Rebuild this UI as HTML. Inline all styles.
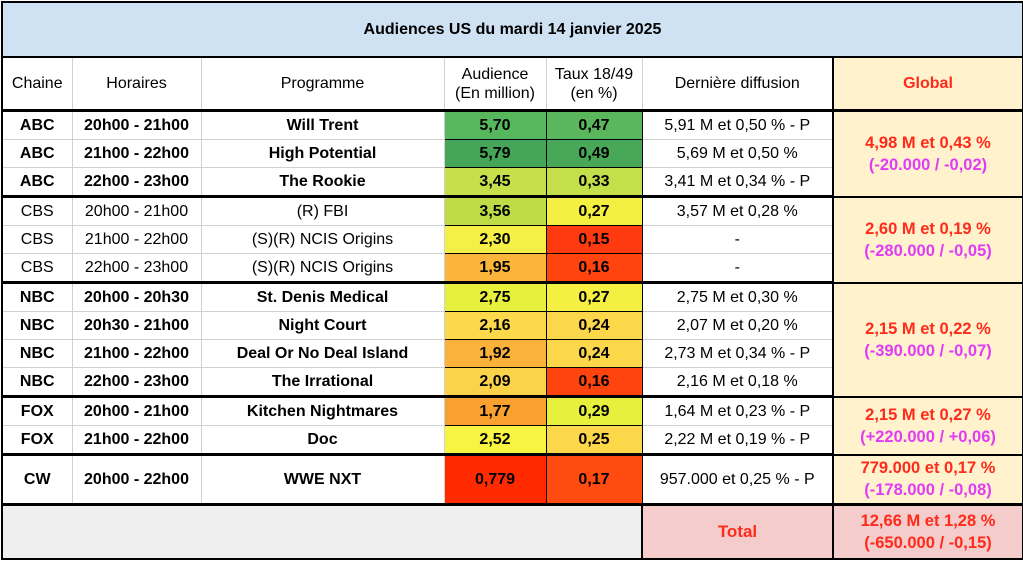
<!DOCTYPE html><html><head><style>
body{margin:0;background:#fff;width:1023px;height:563px;overflow:hidden;font-family:"Liberation Sans",Arial,sans-serif}
table{position:absolute;left:1px;top:1px;border-collapse:collapse;table-layout:fixed;width:1021px}
td{border:1px solid #d0d0d0;text-align:center;font-size:16px;padding:0;color:#000;overflow:hidden;white-space:nowrap}
.b{font-weight:bold}
.t{background:#cfe2f3;font-weight:bold;font-size:16px;height:53px;border:2px solid #000}
.h td{height:51px;font-size:16px;line-height:19px}
tr.r td{height:27px}
.c{border:1px solid #000;font-weight:bold}
.g{background:#fff2cc;color:#ff2a1a;font-weight:bold;border:2px solid #000;line-height:22px;font-size:16.5px}
.g span{color:#e03cf5}
.tk td{border-bottom:3px solid #000}
.L{border-left:2px solid #000}.R{border-right:2px solid #000}
</style></head><body>
<table>
<colgroup><col style="width:70px"><col style="width:129px"><col style="width:243px"><col style="width:102px"><col style="width:96px"><col style="width:191px"><col style="width:190px"></colgroup>
<tr><td colspan="7" class="t">Audiences US du mardi 14 janvier 2025</td></tr>
<tr class="h tk"><td class="L">Chaine</td><td>Horaires</td><td>Programme</td><td>Audience<br>(En million)</td><td>Taux 18/49<br>(en %)</td><td>Dernière diffusion</td><td class="g" style="color:#ff2a1a;border-bottom:3px solid #000">Global</td></tr>
<tr class="r"><td class="b L">ABC</td><td class="b">20h00 - 21h00</td><td class="b">Will Trent</td><td class="c" style="background:#57b75d">5,70</td><td class="c" style="background:#5ab75c">0,47</td><td>5,91 M et 0,50 % - P</td><td rowspan="3" class="g">4,98 M et 0,43 %<br><span>(-20.000 / -0,02)</span></td></tr>
<tr class="r"><td class="b L">ABC</td><td class="b">21h00 - 22h00</td><td class="b">High Potential</td><td class="c" style="background:#45a65a">5,79</td><td class="c" style="background:#48a858">0,49</td><td>5,69 M et 0,50 %</td></tr>
<tr class="r tk"><td class="b L">ABC</td><td class="b">22h00 - 23h00</td><td class="b">The Rookie</td><td class="c" style="background:#c6df4a;border-bottom:3px solid #000">3,45</td><td class="c" style="background:#c4df4a;border-bottom:3px solid #000">0,33</td><td>3,41 M et 0,34 % - P</td></tr>
<tr class="r"><td class="L">CBS</td><td>20h00 - 21h00</td><td>(R) FBI</td><td class="c" style="background:#bfdc47">3,56</td><td class="c" style="background:#f4ef40">0,27</td><td>3,57 M et 0,28 %</td><td rowspan="3" class="g">2,60 M et 0,19 %<br><span>(-280.000 / -0,05)</span></td></tr>
<tr class="r"><td class="L">CBS</td><td>21h00 - 22h00</td><td>(S)(R) NCIS Origins</td><td class="c" style="background:#f6ef45">2,30</td><td class="c" style="background:#ff3a10">0,15</td><td>-</td></tr>
<tr class="r tk"><td class="L">CBS</td><td>22h00 - 23h00</td><td>(S)(R) NCIS Origins</td><td class="c" style="background:#fbb53a;border-bottom:3px solid #000">1,95</td><td class="c" style="background:#ff4410;border-bottom:3px solid #000">0,16</td><td>-</td></tr>
<tr class="r"><td class="b L">NBC</td><td class="b">20h00 - 20h30</td><td class="b">St. Denis Medical</td><td class="c" style="background:#e8f03e">2,75</td><td class="c" style="background:#f4ef40">0,27</td><td>2,75 M et 0,30 %</td><td rowspan="4" class="g">2,15 M et 0,22 %<br><span>(-390.000 / -0,07)</span></td></tr>
<tr class="r"><td class="b L">NBC</td><td class="b">20h30 - 21h00</td><td class="b">Night Court</td><td class="c" style="background:#fcd94a">2,16</td><td class="c" style="background:#fdd74a">0,24</td><td>2,07 M et 0,20 %</td></tr>
<tr class="r"><td class="b L">NBC</td><td class="b">21h00 - 22h00</td><td class="b">Deal Or No Deal Island</td><td class="c" style="background:#fbb23b">1,92</td><td class="c" style="background:#fdd74a">0,24</td><td>2,73 M et 0,34 % - P</td></tr>
<tr class="r tk"><td class="b L">NBC</td><td class="b">22h00 - 23h00</td><td class="b">The Irrational</td><td class="c" style="background:#fbd34a;border-bottom:3px solid #000">2,09</td><td class="c" style="background:#ff4410;border-bottom:3px solid #000">0,16</td><td>2,16 M et 0,18 %</td></tr>
<tr class="r"><td class="b L">FOX</td><td class="b">20h00 - 21h00</td><td class="b">Kitchen Nightmares</td><td class="c" style="background:#f9a12f">1,77</td><td class="c" style="background:#e8f03e">0,29</td><td>1,64 M et 0,23 % - P</td><td rowspan="2" class="g">2,15 M et 0,27 %<br><span>(+220.000 / +0,06)</span></td></tr>
<tr class="r tk"><td class="b L">FOX</td><td class="b">21h00 - 22h00</td><td class="b">Doc</td><td class="c" style="background:#f8f442;border-bottom:3px solid #000">2,52</td><td class="c" style="background:#fdd74a;border-bottom:3px solid #000">0,25</td><td>2,22 M et 0,19 % - P</td></tr>
<tr class="tk"><td class="b L" style="height:47px">CW</td><td class="b">20h00 - 22h00</td><td class="b">WWE NXT</td><td class="c" style="background:#ff2a00;border-bottom:3px solid #000">0,779</td><td class="c" style="background:#ff4a10;border-bottom:3px solid #000">0,17</td><td>957.000 et 0,25 % - P</td><td class="g">779.000 et 0,17 %<br><span>(-178.000 / -0,08)</span></td></tr>
<tr><td colspan="5" class="L" style="height:52px;background:#efefef;border-bottom:2px solid #000;border-right:2px solid #000"></td><td style="background:#f4cccc;color:#ff2a1a;font-weight:bold;border-bottom:2px solid #000;font-size:17px">Total</td><td class="g" style="background:#f4cccc;color:#ff2a1a">12,66 M et 1,28 %<br><span style="color:#ff2a1a">(-650.000 / -0,15)</span></td></tr>
</table>
</body></html>
